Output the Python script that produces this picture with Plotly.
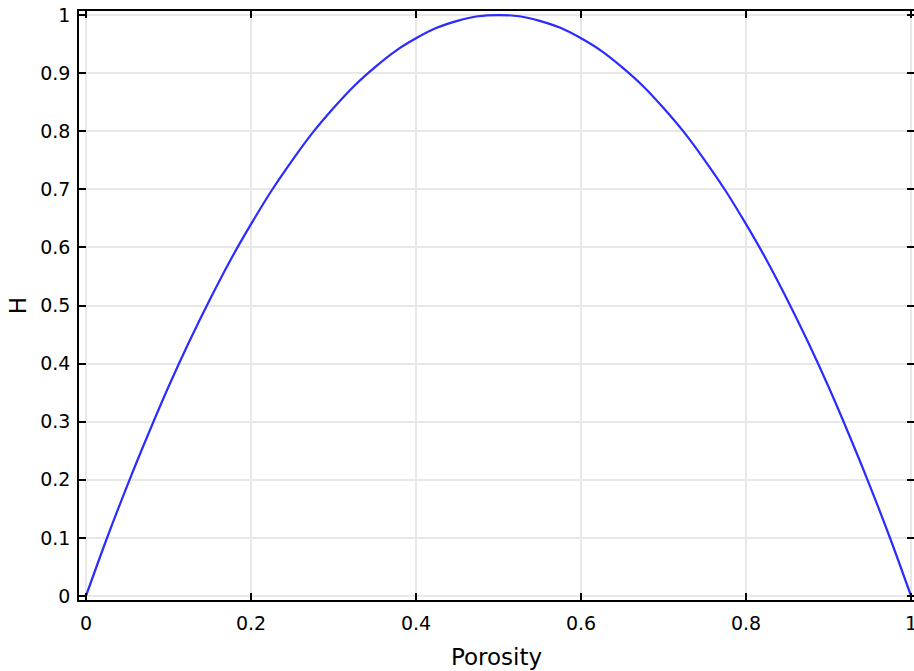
import plotly.graph_objects as go

porosity = [0.0, 0.025, 0.05, 0.075, 0.1, 0.125, 0.15, 0.175, 0.2, 0.225, 0.25,
            0.275, 0.3, 0.325, 0.35, 0.375, 0.4, 0.425, 0.45, 0.475, 0.5,
            0.525, 0.55, 0.575, 0.6, 0.625, 0.65, 0.675, 0.7, 0.725, 0.75,
            0.775, 0.8, 0.825, 0.85, 0.875, 0.9, 0.925, 0.95, 0.975, 1.0]
H = [0.0, 0.098, 0.19, 0.277, 0.36, 0.4375, 0.51, 0.578, 0.64, 0.698, 0.75,
     0.798, 0.84, 0.878, 0.91, 0.938, 0.96, 0.978, 0.99, 0.998, 1.0,
     0.998, 0.99, 0.978, 0.96, 0.938, 0.91, 0.878, 0.84, 0.798, 0.75,
     0.698, 0.64, 0.578, 0.51, 0.4375, 0.36, 0.277, 0.19, 0.098, 0.0]

x_ticks = [0, 0.2, 0.4, 0.6, 0.8, 1]
x_labels = ["0", "0.2", "0.4", "0.6", "0.8", "1"]
y_ticks = [0, 0.1, 0.2, 0.3, 0.4, 0.5, 0.6, 0.7, 0.8, 0.9, 1]
y_labels = ["0", "0.1", "0.2", "0.3", "0.4", "0.5", "0.6", "0.7", "0.8", "0.9", "1"]

fig = go.Figure()
fig.add_trace(go.Scatter(x=porosity, y=H, mode="lines",
                         line=dict(color="#2b2bff", width=2.2, shape="spline"),
                         showlegend=False))

axis_common = dict(
    showline=True, linecolor="#000000", linewidth=1.5, mirror="allticks",
    ticks="inside", ticklen=7, tickwidth=1.5, tickcolor="#000000",
    showgrid=True, gridcolor="#e8e8e8", gridwidth=1.5, zeroline=False,
    tickfont=dict(family="DejaVu Sans", size=19, color="#000000"),
    ticklabeloverflow="allow", automargin=False,
)

fig.update_xaxes(range=[-0.0085, 1.0036], tickvals=x_ticks, ticktext=x_labels,
                 title=dict(text="Porosity", font=dict(family="DejaVu Sans", size=23, color="#000000"),
                            standoff=16),
                 ticklabelstandoff=5, **axis_common)
fig.update_yaxes(range=[-0.007, 1.007], tickvals=y_ticks, ticktext=y_labels,
                 title=dict(text="H", font=dict(family="DejaVu Sans", size=23, color="#000000"),
                            standoff=7),
                 ticklabelstandoff=3, **axis_common)

fig.update_layout(width=914, height=671, margin=dict(l=79, r=0, t=11, b=71),
                  plot_bgcolor="#ffffff", paper_bgcolor="#ffffff")

# remove the default 8px page margin so the figure fills the window exactly
fig.write_html("out.html",
               config={"displayModeBar": False},
               post_script="document.body.style.margin='0';document.body.style.overflow='hidden';")
